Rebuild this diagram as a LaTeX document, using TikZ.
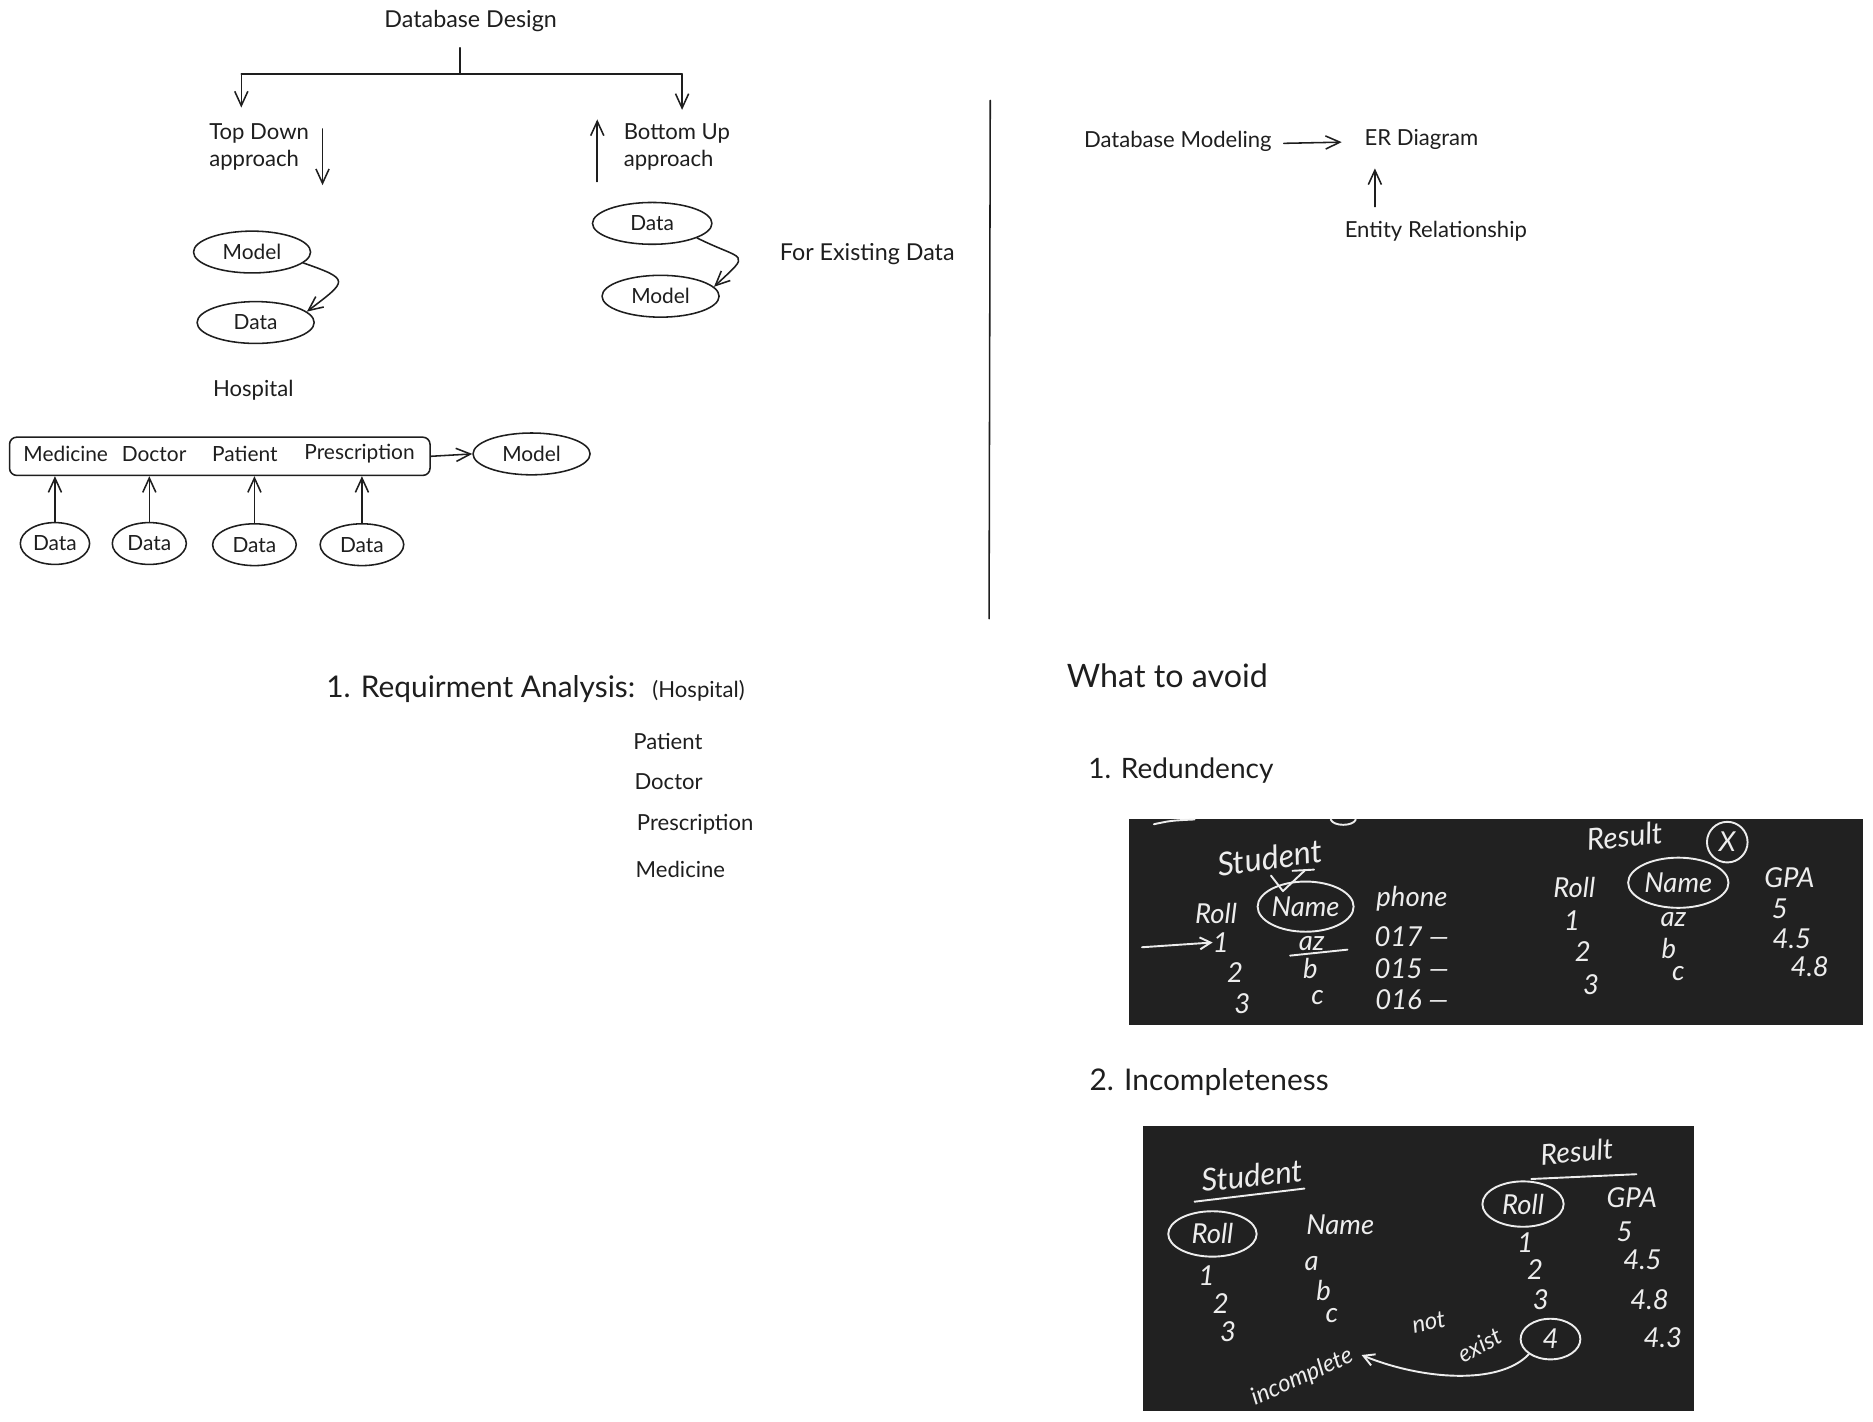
\documentclass[tikz,border=0pt]{standalone}
\usepackage{fontspec}
\setmainfont{Lato}
\usetikzlibrary{arrows.meta,shapes.geometric}

\definecolor{ink}{HTML}{1E1E1E}
\definecolor{board}{HTML}{212121}
\definecolor{chalkc}{HTML}{EDEDED}

\tikzset{
  stroke/.style={draw=ink, line width=1.3pt, line cap=round, line join=round},
  arr/.style={stroke, -{Straight Barb[length=12pt,width=11pt,line width=1.3pt]}},
  txt/.style={text=ink, font=\fontsize{18.5}{23}\selectfont, inner sep=1pt},
  txtL/.style={text=ink, font=\fontsize{19.5}{23}\selectfont, inner sep=1pt},
  boxtxt/.style={text=ink, font=\fontsize{17.5}{21}\selectfont, inner sep=1pt},
  small/.style={text=ink, font=\fontsize{18.5}{22}\selectfont, inner sep=1pt},
  big/.style={text=ink, font=\fontsize{25}{30}\selectfont, inner sep=1pt},
  oval/.style={ellipse, stroke, boxtxt, minimum width=98pt, minimum height=35pt, inner sep=0pt},
  boardbox/.style={fill=board, draw=none, inner sep=0pt},
  chalk/.style={text=chalkc, font=\fontsize{23}{25}\selectfont\itshape, inner sep=0pt},
  chalkS/.style={text=chalkc, font=\fontsize{20}{22}\selectfont\itshape, inner sep=0pt},
  chalkline/.style={draw=chalkc, line width=1.6pt, line cap=round, line join=round},
  chalkarr/.style={chalkline, -{Straight Barb[length=9pt,width=10pt,line width=1.6pt]}},
  chalkring/.style={ellipse, chalkline, chalk, inner sep=0pt},
}

\begin{document}
\begin{tikzpicture}[x=1pt,y=-1pt]
\useasboundingbox (0,0) rectangle (1568,1190);

% ---------- Database design tree ----------
\node[txtL] (dd) at (394,18) {Database Design};
\coordinate (tick) at (385,40);
\coordinate (join) at (385,62);
\coordinate (bl) at (202,62);
\coordinate (br) at (571,62);
\coordinate (tdh) at (202,90);
\coordinate (buh) at (571,92);
\draw[stroke] (tick) -- (join);
\draw[stroke] (bl) -- (br);
\draw[arr] (bl) -- (tdh);
\draw[arr] (br) -- (buh);

\node[txt, align=left, anchor=west] (td) at (174,123) {Top Down\\approach};
\coordinate (tdA) at (270,108);
\coordinate (tdB) at (270,155);
\draw[arr] (tdA) -- (tdB);

\node[txt, align=left, anchor=west] (bu) at (521,123) {Bottom Up\\approach};
\coordinate (buA) at (500,152);
\coordinate (buB) at (500,100);
\draw[arr] (buA) -- (buB);

% top down: model -> data
\node[oval] (m1) at (211,211) {Model};
\node[oval] (d1) at (214,270) {Data};
\draw[arr] (m1.-12) .. controls +(40,14) and +(34,-26) .. (d1.12);

% bottom up: data -> model
\node[oval, minimum width=100pt] (d2) at (546,187) {Data};
\node[oval] (m2) at (553,248) {Model};
\draw[arr] (d2.-18) .. controls +(40,20) and +(32,-30) .. (m2.10);
\node[txtL] (fed) at (726,213) {For Existing Data};

% hospital example
\node[small] (hosp) at (212,327) {Hospital};
\node[draw=ink, line width=1.3pt, rounded corners=6pt, minimum width=352pt, minimum height=32pt, inner sep=0pt] (hr) at (184,382) {};
\node[boxtxt] (tmed) at (55,380) {Medicine};
\node[boxtxt] (tdoc) at (129,380) {Doctor};
\node[boxtxt] (tpat) at (205,380) {Patient};
\node[boxtxt] (tpre) at (301,380) {Prescription};
\node[oval] (m3) at (445,380) {Model};
\draw[arr] (hr.east) -- (m3.west);

\node[oval, minimum width=58pt] (h1) at (46,455) {Data};
\node[oval, minimum width=62pt] (h2) at (125,455) {Data};
\node[oval, minimum width=70pt] (h3) at (213,456) {Data};
\node[oval, minimum width=70pt] (h4) at (303,456) {Data};
\draw[arr] (h1.north) -- (h1.north |- hr.south);
\draw[arr] (h2.north) -- (h2.north |- hr.south);
\draw[arr] (h3.north) -- (h3.north |- hr.south);
\draw[arr] (h4.north) -- (h4.north |- hr.south);

% divider
\coordinate (divT) at (829,84);
\coordinate (divB) at (828,518);
\draw[stroke] (divT) -- (divB);

% ---------- Modeling ----------
\node[txt] (dbm) at (986,118) {Database Modeling};
\node[txt] (erd) at (1190,117) {ER Diagram};
\node[txt] (ent) at (1202,194) {Entity Relationship};
\coordinate (dbmA) at ([shift={(9,2)}]dbm.east);
\coordinate (dbmB) at ([shift={(-18,2)}]erd.west);
\draw[arr] (dbmA) -- (dbmB);
\coordinate (entA) at (1151,173);
\coordinate (entB) at (1151,141);
\draw[arr] (entA) -- (entB);

% ---------- Requirement analysis ----------
\node[big, anchor=west] (req) at (272,577) {1. Requirment Analysis:};
\node[small, anchor=west] (reqh) at (545,578) {(Hospital)};
\node[small, anchor=west] (rp) at (529,621) {Patient};
\node[small, anchor=west] (rd) at (530,654) {Doctor};
\node[small, anchor=west] (rpr) at (532,690) {Prescription};
\node[small, anchor=west] (rm) at (531,728) {Medicine};

% ---------- What to avoid ----------
\node[big, font=\fontsize{27}{30}\selectfont, anchor=west] (avoid) at (892,566) {What to avoid};
\node[big, font=\fontsize{23.5}{30}\selectfont, anchor=west] (red) at (910,645) {1. Redundency};
\node[big, anchor=west] (inc) at (911,906) {2. Incompleteness};

% board 1: redundancy
\node[boardbox, minimum width=615pt, minimum height=172pt] (b1) at (1252.5,772) {};
\draw[chalkline] (966,690) .. controls (980,687) .. (1000,686);
\draw[chalkline] (1114,686) .. controls (1116,692) and (1133,692) .. (1135,686);
\node[chalk, font=\fontsize{27}{30}\selectfont\itshape, rotate=8] (s1) at (1063,718) {Student};
\node[chalk] (r1) at (1018,765) {Roll};
\node[chalkring, minimum width=80pt, minimum height=42pt] (n1) at (1093,759) {Name};
\node[chalk] (ph1) at (1182,752) {phone};
\draw[chalkline] (1064,733) -- (1074,746) -- (1092,729);
\draw[chalkline] (1082,729) -- (1100,728);
\node[chalk] (a1) at (1022,789) {1};
\node[chalk] (a2) at (1034,814) {2};
\node[chalk] (a3) at (1040,840) {3};
\node[chalk] (az1) at (1098,790) {az};
\node[chalk] (bb1) at (1097,811) {b};
\node[chalk] (cc1) at (1103,835) {c};
\draw[chalkline] (1080,800) -- (1128,795);
\node[chalk] (p017) at (1182,784) {017 —};
\node[chalk] (p015) at (1182,811) {015 —};
\node[chalk] (p016) at (1182,837) {016 —};
\coordinate (ptr) at (956,793);
\draw[chalkarr] (ptr) -- (a1.west);

\node[chalk, font=\fontsize{25}{28}\selectfont\itshape, rotate=6] (res1) at (1360,700) {Result};
\node[circle, chalkline, chalk, minimum size=34pt, inner sep=0pt] (x1) at (1446,705) {X};
\node[chalk] (r2) at (1318,743) {Roll};
\node[chalkring, minimum width=84pt, minimum height=42pt] (n2) at (1405,739) {Name};
\node[chalk] (g2) at (1498,735) {GPA};
\node[chalk] at (1316,771) {1};
\node[chalk] at (1325,797) {2};
\node[chalk] at (1332,824) {3};
\node[chalk] at (1401,770) {az};
\node[chalk] at (1397,794) {b};
\node[chalk] at (1405,815) {c};
\node[chalk] at (1490,761) {5};
\node[chalk] at (1500,786) {4.5};
\node[chalk] at (1515,809) {4.8};

% board 2: incompleteness
\node[boardbox, minimum width=461pt, minimum height=238pt] (b2) at (1187.5,1062) {};
\node[chalk, font=\fontsize{26}{30}\selectfont\itshape, rotate=6] (s2) at (1048,984) {Student};
\draw[chalkline] (1000,1006) -- (1092,995);
\node[chalkring, minimum width=74pt, minimum height=38pt] (k1) at (1015,1033) {Roll};
\node[chalk] (nm2) at (1122,1025) {Name};
\node[chalk] at (1010,1068) {1};
\node[chalk] at (1022,1091) {2};
\node[chalk] at (1028,1115) {3};
\node[chalk] at (1098,1058) {a};
\node[chalk] at (1108,1080) {b};
\node[chalk] at (1115,1101) {c};

\node[chalk, font=\fontsize{24}{28}\selectfont\itshape, rotate=5] (res2) at (1320,964) {Result};
\draw[chalkline] (1282,987) -- (1370,983);
\node[chalkring, minimum width=68pt, minimum height=38pt] (k2) at (1275,1008) {Roll};
\node[chalk] (g3) at (1366,1003) {GPA};
\node[chalk] at (1277,1040) {1};
\node[chalk] at (1285,1063) {2};
\node[chalk] at (1290,1088) {3};
\node[chalkring, minimum width=50pt, minimum height=34pt] (c4) at (1298,1121) {4};
\node[chalk] at (1360,1031) {5};
\node[chalk] at (1375,1055) {4.5};
\node[chalk] at (1381,1088) {4.8};
\node[chalk] at (1392,1120) {4.3};
\node[chalkS, rotate=12] (nt) at (1196,1107) {not};
\node[chalkS, rotate=28] (ex) at (1239,1126) {exist};
\node[chalkS, rotate=24] (incw) at (1090,1153) {incomplete};
\draw[chalkarr] (c4.215) .. controls (1255,1160) and (1190,1155) .. ([shift={(8,0)}]incw.east);

\end{tikzpicture}
\end{document}
